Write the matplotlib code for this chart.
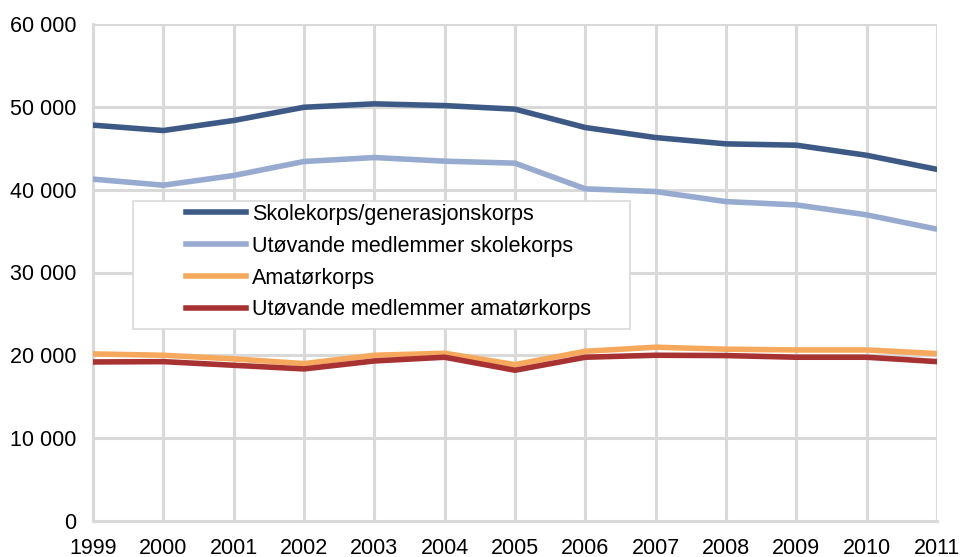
import matplotlib
matplotlib.use("Agg")
import matplotlib.pyplot as plt
from matplotlib.patches import Rectangle
from matplotlib.ticker import FuncFormatter

plt.rcParams['font.family'] = ['Liberation Sans', 'DejaVu Sans']

years = [1999, 2000, 2001, 2002, 2003, 2004, 2005, 2006, 2007, 2008, 2009, 2010, 2011]
skolekorps = [47790, 47140, 48350, 49950, 50360, 50150, 49720, 47500, 46290, 45530, 45370, 44150, 42450]
utov_skole = [41270, 40540, 41710, 43400, 43880, 43440, 43200, 40100, 39770, 38560, 38160, 36960, 35230]
amatorkorps = [20170, 20010, 19570, 19000, 20010, 20250, 18880, 20490, 20980, 20740, 20650, 20650, 20210]
utov_amator = [19200, 19240, 18800, 18360, 19320, 19770, 18200, 19770, 20010, 19970, 19770, 19770, 19240]

labels = ["Skolekorps/generasjonskorps", "Utøvande medlemmer skolekorps",
          "Amatørkorps", "Utøvande medlemmer amatørkorps"]
colors = ["#3d5a87", "#97abd0", "#f6a95c", "#a83232"]
series = [skolekorps, utov_skole, amatorkorps, utov_amator]

fig = plt.figure(figsize=(9.61, 5.57), dpi=100)
ax = fig.add_axes([93/961, 1 - 521/557, (937-93)/961, (521-24)/557])

grid_c = "#d9d9d9"
for y in range(10000, 60001, 10000):
    ax.axhline(y, color=grid_c, lw=2.2, zorder=0)
for x in years:
    ax.axvline(x, color=grid_c, lw=2.2, zorder=0)

handles = []
for s, c, l in zip(series, colors, labels):
    h, = ax.plot(years, s, color=c, lw=4.0, label=l, solid_joinstyle='round', zorder=3)
    handles.append(h)

ax.set_xlim(1999, 2011)
ax.set_ylim(0, 60000)
ax.set_xticks(years)
ax.set_yticks(range(0, 60001, 10000))
ax.yaxis.set_major_formatter(FuncFormatter(lambda v, p: f"{int(v):,}".replace(",", " ")))
ax.tick_params(length=0, labelsize=15.5, colors="#000000")
ax.tick_params(axis='y', pad=12)
ax.tick_params(axis='x', pad=12)
for sp in ["top", "right"]:
    ax.spines[sp].set_visible(False)
for sp in ["left", "bottom"]:
    ax.spines[sp].set_color(grid_c)
    ax.spines[sp].set_linewidth(2.2)

# legend box
ax.add_patch(Rectangle(((133-93)/844, (521-329)/497), (630-133)/844, (329-201)/497,
                       transform=ax.transAxes, facecolor="white", edgecolor=grid_c,
                       lw=1.2, zorder=4))
leg = ax.legend(handles=handles, loc='upper left',
                bbox_to_anchor=((186-93)/844, (521-204)/497),
                frameon=False, fontsize=15.5, handlelength=2.8, handletextpad=0.25,
                labelspacing=0.5, borderpad=0, borderaxespad=0)
leg.set_zorder(5)

fig.savefig("out.png", dpi=100)
